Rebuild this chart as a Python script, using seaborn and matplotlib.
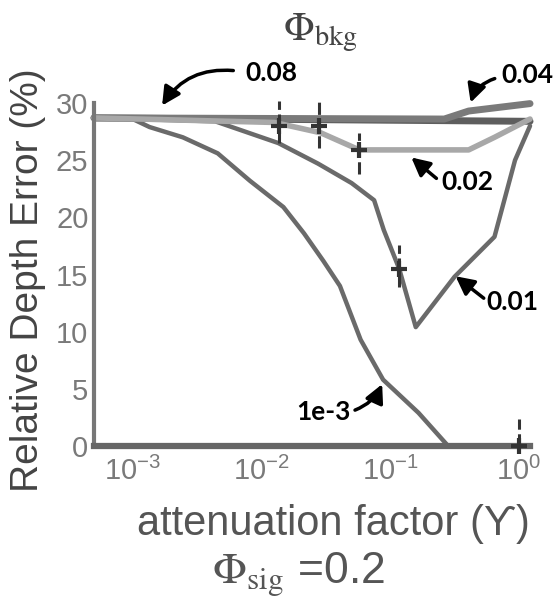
import matplotlib
matplotlib.use("Agg")
import matplotlib.pyplot as plt
import seaborn as sns
import pandas as pd

# Relative depth error (%) versus attenuation factor, one curve per background flux
gamma_1e3 = [5e-4, 1e-3, 1.35e-3, 2.45e-3, 4.57e-3, 8.13e-3, 0.0148, 0.0214,
             0.0302, 0.0407, 0.0589, 0.0881, 0.166, 0.282, 1.22]
err_1e3 = [28.7, 28.6, 27.9, 27.0, 25.6, 23.2, 20.9, 18.6,
           16.2, 14.0, 9.3, 5.8, 2.9, 0.0, 0.0]

gamma_001 = [5e-4, 4.37e-3, 0.0135, 0.0275, 0.0501, 0.075, 0.0891, 0.1175,
             0.158, 0.316, 0.646, 0.933, 1.22]
err_001 = [28.7, 28.4, 26.5, 24.7, 23.0, 21.5, 18.9, 15.5,
           10.4, 14.8, 18.3, 25.0, 28.0]

gamma_002 = [5e-4, 0.0126, 0.0288, 0.0575, 0.407, 0.646, 1.22]
err_002 = [28.7, 28.3, 27.4, 25.9, 25.9, 27.0, 28.6]

gamma_004 = [5e-4, 0.263, 0.407, 1.22]
err_004 = [28.7, 28.6, 29.3, 29.95]

gamma_008 = [5e-4, 1.22]
err_008 = [28.7, 28.4]

# Measured points with spread
pt_gamma = [0.0136, 0.0279, 0.0573, 0.1175, 1.0]
pt_err = [28.0, 28.0, 25.9, 15.5, 0.0]
pt_lo = [1.5, 1.9, 2.1, 1.6, 0.0]
pt_hi = [2.2, 2.4, 1.5, 2.1, 2.4]

y_ticks = [0, 5, 10, 15, 20, 25, 30]
x_ticks = [1e-3, 1e-2, 1e-1, 1e0]

sns.set_style("white")
plt.rcParams["font.family"] = ["Liberation Sans", "DejaVu Sans"]
plt.rcParams["mathtext.fontset"] = "stix"

fig = plt.figure(figsize=(5.55, 5.99), dpi=100)
ax = fig.add_axes([0.1694, 0.2554, 0.7856, 0.5726])
ax.set_xscale("log")

series = [
    ("0.08", gamma_008, err_008, "#5e5e5e", 5.0),
    ("0.04", gamma_004, err_004, "#7a7a7a", 5.0),
    ("1e-3", gamma_1e3, err_1e3, "#6a6a6a", 3.2),
    ("0.01", gamma_001, err_001, "#6a6a6a", 3.2),
    ("0.02", gamma_002, err_002, "#a8a8a8", 4.0),
]
for name, gx, ey, col, lw in series:
    df = pd.DataFrame({"gamma": gx, "err": ey})
    sns.lineplot(data=df, x="gamma", y="err", ax=ax, color=col, linewidth=lw,
                 sort=False, estimator=None, clip_on=False)

eb = ax.errorbar(pt_gamma, pt_err, yerr=[pt_lo, pt_hi], fmt="+", color="#333333",
                 ms=12, mew=3, elinewidth=2.2, capsize=0, clip_on=False, zorder=5)
for coll in eb[2]:
    coll.set_linestyle((0, (4, 1.5)))
    coll.set_clip_on(False)

ax.set_xlim(5e-4, 1.22)
ax.set_ylim(0, 30)
ax.set_xticks(x_ticks)
ax.set_yticks(y_ticks)
ax.minorticks_off()
ax.tick_params(axis="both", length=0, labelsize=21, labelcolor="#7a7a7a")
ax.tick_params(axis="y", pad=4)
ax.tick_params(axis="x", pad=8)

for side in ("top", "right"):
    ax.spines[side].set_visible(False)
ax.spines["left"].set_linewidth(3)
ax.spines["left"].set_color("#777777")
ax.spines["bottom"].set_linewidth(4.5)
ax.spines["bottom"].set_color("#666666")

ax.set_ylabel("Relative Depth Error (%)", fontsize=28, color="#444444")
ax.yaxis.label.set(ha="center", va="center")
ax.yaxis.set_label_coords(-0.1514, 0.484)
ax.set_xlabel("attenuation factor (ϒ)", fontsize=30, color="#555555")
ax.xaxis.label.set(ha="center", va="center")
ax.xaxis.set_label_coords(0.55, -0.227)

fig.text(320 / 555, 1 - 33 / 599, r"$\Phi_{\rm bkg}$", fontsize=29,
         color="#444444", ha="center", va="center")
fig.text(298 / 555, 1 - 575 / 599, r"$\Phi_{\rm sig}$ =0.2", fontsize=32,
         color="#555555", ha="center", va="center")

# Curve labels with pointer arrows
labels = [
    ("0.08", 0.01197, 32.66, 6.04e-3, 32.84, 1.69e-3, 29.78, 0.3),
    ("0.04", 1.155, 32.49, 0.649, 32.14, 0.4217, 30.04, 0.25),
    ("0.02", 0.3999, 23.06, 0.2286, 23.41, 0.1459, 25.24, 0.0),
    ("0.01", 0.8975, 12.58, 0.533, 12.93, 0.322, 14.85, 0.0),
    ("1e-3", 0.0305, 2.97, 0.0533, 3.14, 0.0866, 5.41, 0.2),
]
for txt, tx, ty, ax0, ay0, hx, hy, rad in labels:
    ax.text(tx, ty, txt, fontsize=19, fontweight="bold", family=["Lato", "DejaVu Sans"],
            color="black", ha="center", va="center", clip_on=False)
    ax.annotate("", xy=(hx, hy), xytext=(ax0, ay0), annotation_clip=False,
                arrowprops=dict(arrowstyle="-|>,head_length=0.55,head_width=0.28",
                                mutation_scale=20, lw=2.5, color="black",
                                shrinkA=0, shrinkB=0,
                                connectionstyle=f"arc3,rad={rad}"))

fig.savefig("out.png", dpi=100)
